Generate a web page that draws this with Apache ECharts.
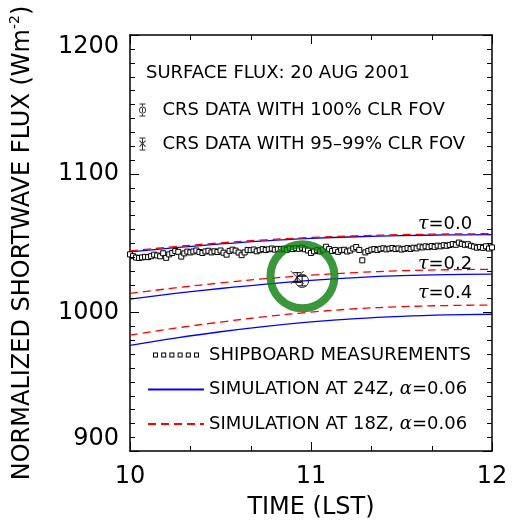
<!DOCTYPE html>
<html><head><meta charset="utf-8">
<script src="https://cdn.jsdelivr.net/npm/echarts@6/dist/echarts.min.js"></script>
<style>html,body{margin:0;padding:0;background:#fff}#c{width:512px;height:527px}</style>
</head><body><div id="c"></div>
<script>
// ---- data ----
const simTime = [10, 10.25, 10.5, 10.75, 11, 11.25, 11.5, 11.75, 12];
const sim24z_tau00 = [1043.6, 1046.6, 1049.3, 1051.6, 1053.3, 1054.5, 1055.3, 1055.8, 1056.0];
const sim18z_tau00 = [1044.3, 1047.4, 1050.1, 1052.3, 1054.0, 1055.2, 1056.0, 1056.5, 1056.7];
const sim24z_tau02 = [1009.6, 1013.6, 1017.2, 1020.4, 1023.0, 1025.0, 1026.4, 1027.2, 1027.6];
const sim18z_tau02 = [1013.7, 1017.6, 1021.2, 1024.3, 1026.8, 1028.7, 1030.0, 1030.7, 1031.0];
const sim24z_tau04 = [976.2, 981.4, 986.0, 989.9, 993.1, 995.5, 997.1, 998.1, 998.6];
const sim18z_tau04 = [983.6, 988.6, 993.0, 996.9, 1000.2, 1002.6, 1004.1, 1004.9, 1005.3];

// shipboard measurements, one per minute from 10:00 LST
const shipStart = 10, shipStepMin = 1;
const shipFlux = [
 1041.8, 1040.5, 1039.5, 1039.2, 1039.6, 1040.0,
 1039.8, 1040.5, 1041.6, 1041.0, 1040.4,
 1042.6, 1039.3, 1041.8, 1042.8, 1044.2,
 1043.6, 1040.2, 1042.5, 1043.8, 1043.2,
 1043.9, 1044.6, 1043.5, 1042.8, 1043.9,
 1044.4, 1043.2, 1044.0, 1043.5, 1044.6,
 1043.0, 1041.6, 1044.3, 1045.2, 1044.5,
 1043.1, 1041.2, 1043.2, 1045.0, 1044.8,
 1045.3, 1044.0, 1044.8, 1045.6, 1044.9,
 1045.5, 1046.0, 1045.2, 1045.8, 1045.4,
 1045.9, 1045.1, 1046.2, 1045.6, 1046.3,
 1045.8, 1046.6, 1045.5, 1044.6, 1042.8,
 1044.0, 1044.8, 1043.9, 1045.2, 1047.3,
 1045.6, 1044.2, 1045.0, 1043.6, 1044.8,
 1045.1, 1043.9, 1044.6, 1046.0, 1047.1,
 1045.0, 1037.5, 1043.2, 1044.3, 1045.2,
 1045.6, 1044.9, 1045.8, 1046.2, 1045.4,
 1045.9, 1046.4, 1045.6, 1046.1, 1045.3,
 1045.8, 1046.3, 1045.7, 1046.6, 1046.1,
 1047.4, 1046.8, 1047.6, 1047.0, 1047.8,
 1047.2, 1048.1, 1047.6, 1048.4, 1048.0,
 1048.6, 1049.2, 1048.7, 1050.3, 1049.4,
 1048.7, 1049.1, 1048.0, 1047.4, 1046.6,
 1047.2, 1046.5, 1047.6, 1046.0, 1046.8
];

const crs100Time = [10.951], crs100Flux = [1022.6], crs100Err = [3.5];
const crs95Time = [10.924], crs95Flux = [1025.1], crs95Err = [3.5];
const highlight = [10.953, 1026.0];

const tauLabels = ['τ=0.0', 'τ=0.2', 'τ=0.4'];
const xMin = 10, xMax = 12, xStep = 1, xMinorPerMajor = 3;
const yMin = 900, yMax = 1200, yStep = 100, yMinorPerMajor = 10;

const NAME_SHIP = 'SHIPBOARD MEASUREMENTS';
const NAME_24 = 'SIMULATION AT 24Z, α=0.06';
const NAME_18 = 'SIMULATION AT 18Z, α=0.06';
const NAME_C100 = 'CRS DATA WITH 100% CLR FOV';
const NAME_C95 = 'CRS DATA WITH 95–99% CLR FOV';

// ---- build ----
const zip = (a, b) => a.map((v, i) => [v, b[i]]);
const shipData = shipFlux.map((v, i) => [shipStart + i * shipStepMin / 60, v]);
const FONT = 'DejaVu Sans';
const MAJOR_LEN = 9, MINOR_LEN = 5;

// axis tick positions: [x, y, kind (0 time axis / 1 flux axis), isMajor]
const tickData = [];
for (let i = 0; i <= (xMax - xMin) / xStep * xMinorPerMajor; i++)
  tickData.push([xMin + i * xStep / xMinorPerMajor, yMin, 0, i % xMinorPerMajor === 0 ? 1 : 0]);
for (let i = 0; i <= (yMax - yMin) / yStep * yMinorPerMajor; i++)
  tickData.push([xMin, yMin + i * yStep / yMinorPerMajor, 1, i % yMinorPerMajor === 0 ? 1 : 0]);

function tickLines(coord, t) {
  const len = t[3] ? MAJOR_LEN : MINOR_LEN;
  if (t[2] === 0) {
    const a = coord([t[0], yMin]), b = coord([t[0], yMax]);
    const x = Math.round(a[0]) + 0.5;
    return [[x, a[1], x, a[1] - len], [x, b[1], x, b[1] + len]];
  }
  const a = coord([xMin, t[1]]), b = coord([xMax, t[1]]);
  const y = Math.round(a[1]) + 0.5;
  return [[a[0], y, a[0] + len, y], [b[0], y, b[0] - len, y]];
}

function simSeries(name, vals, color, dashed) {
  return {
    type: 'line', name, data: zip(simTime, vals), smooth: 0.35, symbol: 'none', showSymbol: false,
    lineStyle: { color, width: 1.3, type: dashed ? [8, 5] : 'solid' },
    itemStyle: { color }, z: 2, silent: true
  };
}
function errSeries(name, t, v, e) {
  return {
    type: 'custom', name, z: 4, silent: true,
    data: t.map((x, i) => [x, v[i] - e[i], v[i] + e[i]]),
    renderItem(params, api) {
      const lo = api.coord([api.value(0), api.value(1)]);
      const hi = api.coord([api.value(0), api.value(2)]);
      const w = 4;
      const st = { stroke: '#000', lineWidth: 1 };
      return { type: 'group', children: [
        { type: 'line', shape: { x1: lo[0], y1: lo[1], x2: hi[0], y2: hi[1] }, style: st },
        { type: 'line', shape: { x1: lo[0] - w, y1: lo[1], x2: lo[0] + w, y2: lo[1] }, style: st },
        { type: 'line', shape: { x1: hi[0] - w, y1: hi[1], x2: hi[0] + w, y2: hi[1] }, style: st }
      ]};
    }
  };
}

// legend icons (ring = outer circle minus inner circle)
const iconCircleBar = 'path://M3.5,0H4.5V13H3.5Z M1,0H7V1H1Z M1,12H7V13H1Z ' +
  'M0.5,6.5A3.5,3.5 0 1 0 7.5,6.5A3.5,3.5 0 1 0 0.5,6.5Z M1.4,6.5A2.6,2.6 0 1 1 6.6,6.5A2.6,2.6 0 1 1 1.4,6.5Z';
const iconXBar = 'path://M3.5,0H4.5V13H3.5Z M1,0H7V1H1Z M1,12H7V13H1Z ' +
  'M0.6,3.4L1.3,2.7L7.4,8.8L6.7,9.5Z M6.7,2.7L7.4,3.4L1.3,9.5L0.6,8.8Z';
let sq = '';
for (let k = 0; k < 6; k++) {
  const x0 = k * 8.2;
  sq += `M${x0},0H${x0 + 5}V5H${x0}Z M${x0 + 1},1V4H${x0 + 4}V1Z `;
}
const iconSquares = 'path://' + sq;

function axisBase() {
  return {
    axisLine: { show: true, onZero: false, lineStyle: { color: '#000', width: 1.5 } },
    axisTick: { show: false },
    minorTick: { show: false },
    splitLine: { show: false },
    minorSplitLine: { show: false }
  };
}

const tauRich = { g: { fontFamily: 'DejaVu Serif', fontStyle: 'italic', fontSize: 19 } };
const tauTop = [215, 255, 284];
const tauGraphics = tauLabels.map((s, i) => ({
  type: 'text', left: 418, top: tauTop[i], z: 20,
  style: { text: s.replace('τ', '{g|τ}'), font: '18px DejaVu Sans', fill: '#000', rich: tauRich }
}));

const option = {
  animation: false,
  backgroundColor: '#fff',
  textStyle: { fontFamily: FONT, color: '#000' },
  title: {
    text: 'SURFACE FLUX: 20 AUG 2001', left: 141, top: 59,
    textStyle: { fontFamily: FONT, fontSize: 18, fontWeight: 'normal', color: '#000' }
  },
  grid: { left: 129, right: 20, top: 35, bottom: 76 },
  legend: [
    {
      orient: 'vertical', left: 134, top: 95, itemWidth: 30, itemHeight: 13, itemGap: 14,
      selectedMode: false,
      textStyle: { fontFamily: FONT, fontSize: 18, color: '#000', lineHeight: 20 },
      data: [
        { name: NAME_C100, icon: iconCircleBar, itemStyle: { color: '#000', borderWidth: 0 } },
        { name: NAME_C95, icon: iconXBar, itemStyle: { color: '#000', borderWidth: 0 } }
      ]
    },
    {
      orient: 'vertical', left: 142, top: 340, itemWidth: 56, itemHeight: 5, itemGap: 14.5,
      selectedMode: false,
      textStyle: { fontFamily: FONT, fontSize: 18, color: '#000', lineHeight: 20,
        rich: { g: { fontFamily: 'DejaVu Serif', fontStyle: 'italic', fontSize: 18, lineHeight: 20 } } },
      formatter: n => n.replace('α', '{g|α}'),
      data: [
        { name: NAME_SHIP, icon: iconSquares, itemStyle: { color: '#000', borderWidth: 0 } },
        { name: NAME_24, itemStyle: { color: 'rgba(0,0,0,0)', borderWidth: 0 } },
        { name: NAME_18, itemStyle: { color: 'rgba(0,0,0,0)', borderWidth: 0 } }
      ]
    }
  ],
  xAxis: [
    Object.assign(axisBase(), {
      type: 'value', min: xMin, max: xMax, interval: xStep, position: 'bottom',
      name: 'TIME (LST)', nameLocation: 'middle', nameGap: 45,
      nameTextStyle: { fontFamily: FONT, fontSize: 24, color: '#000' },
      axisLabel: { show: true, fontFamily: FONT, fontSize: 24, color: '#000', margin: 14 }
    }),
    Object.assign(axisBase(), {
      type: 'value', min: xMin, max: xMax, interval: xStep, position: 'top',
      axisLabel: { show: false }
    })
  ],
  yAxis: [
    Object.assign(axisBase(), {
      type: 'value', min: yMin, max: yMax, interval: yStep, position: 'left',
      name: 'NORMALIZED SHORTWAVE FLUX (Wm{sup|-2})', nameLocation: 'middle', nameGap: 92,
      nameTextStyle: { fontFamily: FONT, fontSize: 24, color: '#000', lineHeight: 30,
        rich: { sup: { fontFamily: FONT, fontSize: 14, verticalAlign: 'top', lineHeight: 30 } } },
      axisLabel: { show: true, fontFamily: FONT, fontSize: 24, color: '#000', margin: 11,
        formatter: v => String(v),
        verticalAlignMinLabel: 'bottom', verticalAlignMaxLabel: 'top' }
    }),
    Object.assign(axisBase(), {
      type: 'value', min: yMin, max: yMax, interval: yStep, position: 'right',
      axisLabel: { show: false }
    })
  ],
  graphic: tauGraphics.slice(),
  series: [
    simSeries(NAME_24, sim24z_tau00, '#0000ff', false),
    simSeries(NAME_24, sim24z_tau02, '#0000ff', false),
    simSeries(NAME_24, sim24z_tau04, '#0000ff', false),
    simSeries(NAME_18, sim18z_tau00, '#ff0000', true),
    simSeries(NAME_18, sim18z_tau02, '#ff0000', true),
    simSeries(NAME_18, sim18z_tau04, '#ff0000', true),
    {
      type: 'scatter', name: NAME_SHIP, data: shipData, symbol: 'rect', symbolSize: 5, z: 3, silent: true,
      itemStyle: { color: '#fff', borderColor: '#000', borderWidth: 1, opacity: 1 }
    },
    errSeries('err100', crs100Time, crs100Flux, crs100Err),
    errSeries('err95', crs95Time, crs95Flux, crs95Err),
    {
      type: 'scatter', name: NAME_C100, data: zip(crs100Time, crs100Flux), symbol: 'circle', symbolSize: 13, z: 5,
      silent: true, itemStyle: { color: 'rgba(0,0,0,0)', borderColor: '#000', borderWidth: 1 }
    },
    {
      type: 'scatter', name: NAME_C95, data: zip(crs95Time, crs95Flux), symbol: 'path://M0,0L10,10M10,0L0,10',
      symbolSize: 13, z: 5, silent: true,
      itemStyle: { color: 'rgba(0,0,0,0)', borderColor: '#000', borderWidth: 1 }
    },
    {
      type: 'scatter', name: 'highlight', data: [highlight], symbol: 'circle', symbolSize: 64, z: 10, silent: true,
      itemStyle: { color: 'rgba(0,0,0,0)', borderColor: '#0a7d0a', borderWidth: 8 }
    }
  ]
};

const chart = echarts.init(document.getElementById('c'), null, { renderer: 'canvas' });
chart.setOption(option);

// inward axis ticks on all four sides, positioned through the grid's own scales
const coord = p => chart.convertToPixel({ gridIndex: 0 }, p);
const tickGraphics = [];
tickData.forEach(t => {
  tickLines(coord, t).forEach(l => tickGraphics.push({
    type: 'line', z: 30, silent: true,
    shape: { x1: l[0], y1: l[1], x2: l[2], y2: l[3] },
    style: { stroke: '#000', lineWidth: 1 }
  }));
});
chart.setOption({ graphic: { elements: tauGraphics.concat(tickGraphics) } });
</script></body></html>
